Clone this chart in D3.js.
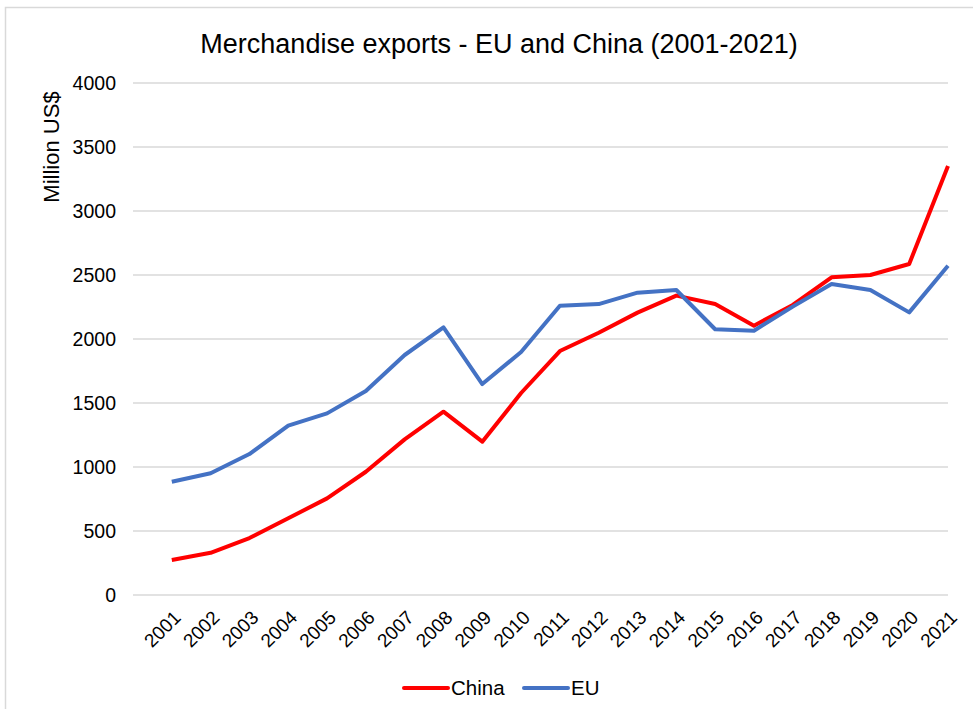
<!DOCTYPE html>
<html>
<head>
<meta charset="utf-8">
<script src="https://cdn.jsdelivr.net/npm/d3@7"></script>
<style>
  body { margin: 0; background: #fff; }
  text { font-family: "Liberation Sans", Arial, sans-serif; fill: #000; }
</style>
</head>
<body>
<script>
// data
var years = d3.range(2001, 2022);
var china = [273, 330, 445, 599, 755, 963, 1216, 1432, 1198, 1578, 1906,
             2049, 2206, 2339, 2273, 2104, 2266, 2482, 2500, 2586, 3352];
var eu = [885, 951, 1101, 1323, 1419, 1594, 1875, 2091, 1648, 1898, 2260,
          2273, 2362, 2383, 2076, 2065, 2253, 2430, 2383, 2208, 2573];
var yTicks = [0, 500, 1000, 1500, 2000, 2500, 3000, 3500, 4000];
var series = [
  {name: 'China', values: china, color: '#ff0000'},
  {name: 'EU', values: eu, color: '#4472c4'}
];

var W = 973, H = 709;
var FONT = '"Liberation Sans", Arial, sans-serif';
var svg = d3.select('body').append('svg').attr('width', W).attr('height', H);

// chart frame
svg.append('rect')
   .attr('x', 5.5).attr('y', 7.5).attr('width', 1000).attr('height', 800)
   .attr('fill', 'none').attr('stroke', '#d9d9d9').attr('stroke-width', 1.5);

// the category axis has an empty slot before 2001
var x = d3.scaleLinear().domain([2000, 2021]).range([133, 948]);
var y = d3.scaleLinear().domain([0, 4000]).range([595, 83]);

// gridlines
svg.append('g').selectAll('line').data(yTicks).enter().append('line')
   .attr('x1', 133).attr('x2', 948)
   .attr('y1', function(d){ return y(d); })
   .attr('y2', function(d){ return y(d); })
   .attr('stroke', '#d9d9d9').attr('stroke-width', 1.5);

// y axis labels
var yAxis = d3.axisLeft(y).tickValues(yTicks).tickFormat(d3.format('d'))
  .tickSize(0).tickPadding(0);
var gy = svg.append('g').attr('transform', 'translate(116,0)').call(yAxis);
gy.select('.domain').remove();
gy.selectAll('text').attr('font-size', 19.5).attr('dy', '0.35em')
  .style('font-family', FONT).attr('fill', '#000');

// x axis labels, rotated
var xAxis = d3.axisBottom(x).tickValues(years).tickFormat(d3.format('d')).tickSize(0);
var gx = svg.append('g').attr('transform', 'translate(0,606)').call(xAxis);
gx.select('.domain').remove();
gx.selectAll('text')
  .attr('font-size', 19)
  .style('font-family', FONT).attr('fill', '#000')
  .attr('text-anchor', 'end')
  .attr('dy', '0.35em').attr('y', 0).attr('x', 0)
  .attr('transform', 'translate(5,8) rotate(-45)');

// lines
var line = d3.line()
  .x(function(d, i){ return x(years[i]); })
  .y(function(d){ return y(d); });
svg.append('g').selectAll('path').data(series).enter().append('path')
   .attr('d', function(s){ return line(s.values); })
   .attr('fill', 'none')
   .attr('stroke', function(s){ return s.color; })
   .attr('stroke-width', 4)
   .attr('stroke-linejoin', 'round');

// title
svg.append('text')
   .attr('x', 499).attr('y', 52.5)
   .attr('text-anchor', 'middle')
   .attr('font-size', 27)
   .text('Merchandise exports - EU and China (2001-2021)');

// y axis title
svg.append('text')
   .attr('transform', 'translate(59,147) rotate(-90)')
   .attr('text-anchor', 'middle')
   .attr('font-size', 22)
   .text('Million US$');

// legend
var lg = svg.append('g').selectAll('g').data(series).enter().append('g')
   .attr('transform', function(s, i){ return 'translate(' + [404, 524][i] + ',688)'; });
lg.append('line').attr('x1', 0).attr('x2', 44).attr('y1', 0).attr('y2', 0)
  .attr('stroke', function(s){ return s.color; }).attr('stroke-width', 4)
  .attr('stroke-linecap', 'round');
lg.append('text').attr('x', 47).attr('y', 0).attr('dy', '0.35em')
  .attr('font-size', 20.5).text(function(s){ return s.name; });
</script>
</body>
</html>
